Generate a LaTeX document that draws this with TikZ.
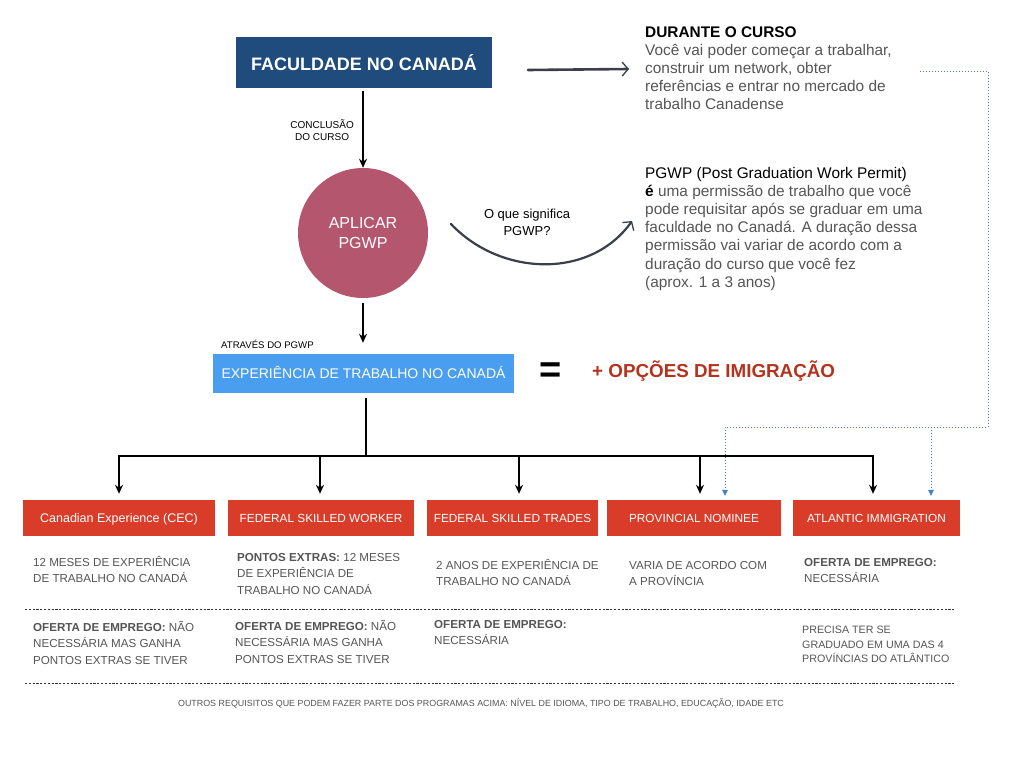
\documentclass[tikz,border=0pt]{standalone}
\usepackage{fontspec}
\setmainfont{Liberation Sans}
\usetikzlibrary{arrows.meta}
\definecolor{fdblue}{HTML}{1F4C7C}
\definecolor{circ}{HTML}{B5566F}
\definecolor{lblue}{HTML}{4A9EEF}
\definecolor{boxred}{HTML}{D93C28}
\definecolor{txtred}{HTML}{B5321E}
\definecolor{txtgray}{HTML}{555555}
\definecolor{dotblue}{HTML}{4A80C4}
\definecolor{sketch}{HTML}{3A3F4A}
\newcommand{\mytopstrut}{\rule{0pt}{1em}}
\tikzset{
  prog/.style={fill=boxred, text=white, minimum height=36pt, inner sep=0pt, text height=8.5pt, text depth=0pt, font=\fontsize{11.8}{14}\selectfont},
  coltxt/.style={anchor=north west, inner sep=0pt, align=left, text=txtgray, font=\fontsize{11.6}{16.5}\selectfont},
  infotxt/.style={anchor=north west, inner sep=0pt, align=left, text=txtgray, font=\fontsize{15.4}{18.2}\selectfont},
  flow/.style={draw=black, line width=1.6pt, -{Stealth[length=9pt,width=8pt]}},
  tree/.style={draw=black, line width=1.8pt},
  dotb/.style={draw=dotblue, line width=1pt, dotted},
  sep/.style={draw=black!80, line width=0.8pt, dash pattern=on 2.2pt off 1.6pt},
  sk/.style={draw=sketch, line width=2.6pt, line cap=round, -{Straight Barb[length=6pt,width=14pt,line width=1.3pt]}},
}
\begin{document}
\begin{tikzpicture}[x=1pt,y=-1pt]
\useasboundingbox (0,0) rectangle (1024,768);

% top box
\node[fill=fdblue, text=white, minimum width=256pt, minimum height=51pt, inner sep=0pt,
  font=\fontsize{18}{20}\bfseries\selectfont] (fac) at (364,62.5) {FACULDADE NO CANADÁ};

% durante o curso
\node[infotxt] (dur) at (645,21.5) {\mytopstrut\textcolor{black}{\textbf{DURANTE O CURSO}}\\
Você vai poder começar a trabalhar,\\
construir um network, obter\\
referências e entrar no mercado de\\
trabalho Canadense};
\coordinate (a1s) at (528,70);
\coordinate (a1e) at (629,69);
\draw[sk] (a1s) -- (a1e);

% circle
\node[circle, fill=circ, minimum size=130pt, inner sep=0pt, text=white, align=center,
  font=\fontsize{16}{20}\selectfont] (apl) at (363,233) {APLICAR\\PGWP};
\draw[flow] ([yshift=-3pt]fac.south -| apl.north) -- (apl.north);
\node[anchor=east, align=center, inner sep=0pt, font=\fontsize{10}{12.5}\selectfont] (concl) at (354,130) {CONCLUSÃO\\DO CURSO};

% pgwp info
\node[infotxt] (pgwp) at (645,162.5) {\mytopstrut\textcolor{black}{PGWP (Post Graduation Work Permit)}\\
\textcolor{black}{\textbf{é}} uma permissão de trabalho que você\\
pode requisitar após se graduar em uma\\
faculdade no Canadá. A duração dessa\\
permissão vai variar de acordo com a\\
duração do curso que você fez\\
(aprox. 1 a 3 anos)};
\coordinate (c1s) at (451,224);
\coordinate (c1e) at (632,221);
\draw[sk, line width=2.2pt] (c1s) .. controls (500,276) and (590,280) .. (c1e);
\node[align=center, inner sep=0pt, font=\fontsize{13}{17}\selectfont] (oque) at (527,222) {O que significa\\PGWP?};

% experience box
\node[fill=lblue, text=white, minimum width=301pt, minimum height=39pt, inner sep=0pt,
  text height=10pt, text depth=0pt,
  font=\fontsize{14}{16}\selectfont] (exp) at (363.5,373.5) {EXPERIÊNCIA DE TRABALHO NO CANADÁ};
\draw[flow] ([yshift=-5pt]apl.south) -- ([yshift=11pt]exp.north -| apl.south);
\node[anchor=west, inner sep=0pt, font=\fontsize{9.6}{11}\selectfont] (atr) at (221,344) {ATRAVÉS DO PGWP};
\node[inner sep=0pt, font=\fontsize{38}{38}\bfseries\selectfont] (eq) at (551,373) {=};
\node[anchor=west, inner sep=0pt, text=txtred, font=\fontsize{18.8}{21}\bfseries\selectfont] (opc) at (592,371) {+ OPÇÕES DE IMIGRAÇÃO};

% program boxes
\node[prog, minimum width=192pt, font=\fontsize{12.5}{14}\selectfont] (p1) at (119,518) {Canadian Experience (CEC)};
\node[prog, minimum width=186pt] (p2) at (321,518) {FEDERAL SKILLED WORKER};
\node[prog, minimum width=171pt] (p3) at (512.5,518) {FEDERAL SKILLED TRADES};
\node[prog, minimum width=174pt] (p4) at (694,518) {PROVINCIAL NOMINEE};
\node[prog, minimum width=167pt] (p5) at (876.5,518) {ATLANTIC IMMIGRATION};

% tree
\coordinate (hub) at (366,456);
\coordinate (hl) at (119,456);
\coordinate (hr) at (873,456);
\coordinate (h2) at (320,456);
\coordinate (h3) at (519,456);
\coordinate (h4) at (700,456);
\draw[tree] ([yshift=-5pt]exp.south -| hub) -- (hub);
\draw[tree, line cap=rect] (hl) -- (hr);
\draw[flow] (hl) -- ([yshift=6pt]p1.north -| hl);
\draw[flow] (h2) -- ([yshift=6pt]p2.north -| h2);
\draw[flow] (h3) -- ([yshift=6pt]p3.north -| h3);
\draw[flow] (h4) -- ([yshift=6pt]p4.north -| h4);
\draw[flow] (hr) -- ([yshift=6pt]p5.north -| hr);

% dotted blue
\coordinate (d0) at (920,71);
\coordinate (d1) at (988,71);
\coordinate (d2) at (988,427);
\coordinate (d3) at (725,427);
\coordinate (d4) at (931,427);
\draw[dotb] (d0) -- (d1) -- (d2) -- (d3) -- ([yshift=5pt]p4.north -| d3);
\draw[dotb] (d4) -- ([yshift=5pt]p5.north -| d4);
\fill[dotblue] ([yshift=5pt]p4.north -| d3) ++(-3,-5) -- ++(6,0) -- ++(-3,6) -- cycle;
\fill[dotblue] ([yshift=5pt]p5.north -| d4) ++(-3,-5) -- ++(6,0) -- ++(-3,6) -- cycle;

% column texts top
\node[coltxt] (t1) at (33,554.5) {\mytopstrut 12 MESES DE EXPERIÊNCIA\\DE TRABALHO NO CANADÁ};
\node[coltxt] (t2) at (237,549.5) {\mytopstrut\textbf{PONTOS EXTRAS:} 12 MESES\\DE EXPERIÊNCIA DE\\TRABALHO NO CANADÁ};
\node[coltxt] (t3) at (436,557.5) {\mytopstrut 2 ANOS DE EXPERIÊNCIA DE\\TRABALHO NO CANADÁ};
\node[coltxt] (t4) at (629,557.5) {\mytopstrut VARIA DE ACORDO COM\\A PROVÍNCIA};
\node[coltxt] (t5) at (804,554.5) {\mytopstrut\textbf{OFERTA DE EMPREGO:}\\NECESSÁRIA};

% separators
\coordinate (s1a) at (25,609);
\coordinate (s1b) at (955,609);
\coordinate (s2a) at (25,683);
\coordinate (s2b) at (955,683);
\draw[sep] (s1a) -- (s1b);
\draw[sep] (s2a) -- (s2b);

% column texts bottom
\node[coltxt] (b1) at (33,619.5) {\mytopstrut\textbf{OFERTA DE EMPREGO:} NÃO\\NECESSÁRIA MAS GANHA\\PONTOS EXTRAS SE TIVER};
\node[coltxt] (b2) at (235,618.5) {\mytopstrut\textbf{OFERTA DE EMPREGO:} NÃO\\NECESSÁRIA MAS GANHA\\PONTOS EXTRAS SE TIVER};
\node[coltxt] (b3) at (434,616.5) {\mytopstrut\textbf{OFERTA DE EMPREGO:}\\NECESSÁRIA};
\node[coltxt, font=\fontsize{10.7}{14.5}\selectfont] (b5) at (802,623) {\mytopstrut PRECISA TER SE\\GRADUADO EM UMA DAS 4\\PROVÍNCIAS DO ATLÂNTICO};

% footer
\node[inner sep=0pt, text=txtgray, font=\fontsize{8.9}{10}\selectfont] (foot) at (481,704) {OUTROS REQUISITOS QUE PODEM FAZER PARTE DOS PROGRAMAS ACIMA: NÍVEL DE IDIOMA, TIPO DE TRABALHO, EDUCAÇÃO, IDADE ETC};
\end{tikzpicture}
\end{document}
